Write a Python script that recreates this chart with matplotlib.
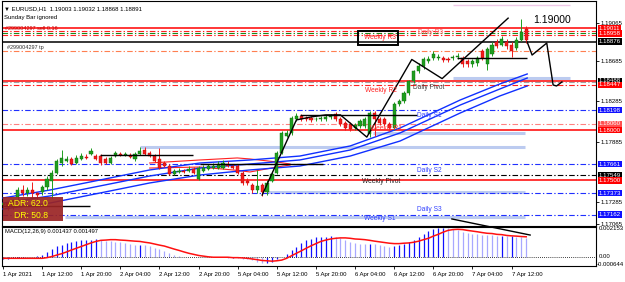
import matplotlib
matplotlib.use("Agg")
import matplotlib.pyplot as plt
import matplotlib.transforms as mtransforms
from matplotlib.patches import Rectangle

plt.rcParams['font.family'] = ['Liberation Sans', 'DejaVu Sans']

# ---------------- DATA ----------------
opens = [1.17253, 1.17272, 1.17233, 1.17331, 1.17410, 1.17371, 1.17401, 1.17371, 1.17381, 1.17430,
         1.17499, 1.17578, 1.17676, 1.17696, 1.17716, 1.17676, 1.17716, 1.17735, 1.17765, 1.17745,
         1.17745, 1.17716, 1.17676, 1.17745, 1.17765, 1.17755, 1.17755, 1.17716, 1.17765, 1.17804,
         1.17775, 1.17745, 1.17716, 1.17676, 1.17647, 1.17568, 1.17588, 1.17598, 1.17598, 1.17617,
         1.17519, 1.17598, 1.17617, 1.17627, 1.17627, 1.17627, 1.17666, 1.17647, 1.17647, 1.17578,
         1.17499, 1.17450, 1.17401, 1.17450, 1.17381, 1.17499, 1.17578, 1.17775, 1.17942, 1.17972,
         1.18110, 1.18139, 1.18120, 1.18120, 1.18110, 1.18110, 1.18110, 1.18129, 1.18159, 1.18110,
         1.18070, 1.18060, 1.18021, 1.18041, 1.18041, 1.17962, 1.18169, 1.18110, 1.18110, 1.18060,
         1.18021, 1.18258, 1.18287, 1.18366, 1.18484, 1.18583, 1.18632, 1.18681, 1.18711, 1.18711,
         1.18711, 1.18701, 1.18711, 1.18720, 1.18711, 1.18681, 1.18652, 1.18661, 1.18780, 1.18652,
         1.18750, 1.18878, 1.18848, 1.18878, 1.18848, 1.18809, 1.18898, 1.19003]
highs = [1.17290, 1.17290, 1.17320, 1.17430, 1.17450, 1.17430, 1.17480, 1.17390, 1.17450, 1.17540,
         1.17600, 1.17710, 1.17800, 1.17740, 1.17730, 1.17750, 1.17770, 1.17760, 1.17820, 1.17760,
         1.17760, 1.17730, 1.17740, 1.17790, 1.17780, 1.17780, 1.17770, 1.17780, 1.17830, 1.17830,
         1.17790, 1.17760, 1.17820, 1.17690, 1.17660, 1.17610, 1.17620, 1.17610, 1.17640, 1.17630,
         1.17640, 1.17650, 1.17660, 1.17670, 1.17690, 1.17700, 1.17690, 1.17660, 1.17660, 1.17590,
         1.17520, 1.17470, 1.17600, 1.17470, 1.17500, 1.17590, 1.17790, 1.17990, 1.18000, 1.18140,
         1.18170, 1.18160, 1.18140, 1.18140, 1.18130, 1.18140, 1.18150, 1.18160, 1.18180, 1.18130,
         1.18090, 1.18080, 1.18070, 1.18110, 1.18130, 1.18190, 1.18190, 1.18130, 1.18130, 1.18080,
         1.18280, 1.18310, 1.18390, 1.18500, 1.18600, 1.18660, 1.18720, 1.18730, 1.18780, 1.18750,
         1.18730, 1.18720, 1.18740, 1.18760, 1.18730, 1.18700, 1.18700, 1.18730, 1.18800, 1.18820,
         1.18870, 1.18900, 1.18930, 1.18900, 1.18870, 1.18920, 1.19105, 1.19032]
lows = [1.17230, 1.17210, 1.17220, 1.17310, 1.17350, 1.17350, 1.17330, 1.17320, 1.17360, 1.17410,
        1.17330, 1.17560, 1.17640, 1.17680, 1.17650, 1.17660, 1.17700, 1.17710, 1.17750, 1.17700,
        1.17650, 1.17660, 1.17660, 1.17730, 1.17740, 1.17740, 1.17720, 1.17690, 1.17750, 1.17750,
        1.17730, 1.17680, 1.17610, 1.17630, 1.17550, 1.17550, 1.17570, 1.17570, 1.17580, 1.17560,
        1.17500, 1.17580, 1.17600, 1.17610, 1.17610, 1.17610, 1.17630, 1.17610, 1.17560, 1.17450,
        1.17450, 1.17380, 1.17380, 1.17350, 1.17360, 1.17480, 1.17560, 1.17760, 1.17930, 1.17950,
        1.18090, 1.18090, 1.18090, 1.18080, 1.18090, 1.18090, 1.18090, 1.18110, 1.18090, 1.18040,
        1.18000, 1.17990, 1.18000, 1.18020, 1.18020, 1.17930, 1.17940, 1.18050, 1.18040, 1.18000,
        1.18000, 1.18240, 1.18270, 1.18350, 1.18470, 1.18570, 1.18610, 1.18660, 1.18690, 1.18690,
        1.18670, 1.18670, 1.18690, 1.18700, 1.18630, 1.18630, 1.18630, 1.18640, 1.18690, 1.18600,
        1.18730, 1.18810, 1.18830, 1.18800, 1.18720, 1.18790, 1.18880, 1.18868]
closes = [1.17272, 1.17233, 1.17302, 1.17401, 1.17371, 1.17410, 1.17371, 1.17351, 1.17430, 1.17519,
          1.17578, 1.17696, 1.17726, 1.17716, 1.17666, 1.17726, 1.17745, 1.17726, 1.17795, 1.17716,
          1.17676, 1.17676, 1.17726, 1.17775, 1.17755, 1.17765, 1.17735, 1.17765, 1.17795, 1.17765,
          1.17745, 1.17696, 1.17627, 1.17647, 1.17568, 1.17598, 1.17598, 1.17588, 1.17617, 1.17578,
          1.17627, 1.17627, 1.17647, 1.17647, 1.17666, 1.17676, 1.17647, 1.17627, 1.17578, 1.17470,
          1.17470, 1.17401, 1.17440, 1.17381, 1.17479, 1.17568, 1.17775, 1.17972, 1.17972, 1.18120,
          1.18139, 1.18110, 1.18110, 1.18100, 1.18112, 1.18120, 1.18129, 1.18139, 1.18110, 1.18060,
          1.18021, 1.18011, 1.18051, 1.18090, 1.18110, 1.18169, 1.18110, 1.18070, 1.18060, 1.18021,
          1.18258, 1.18287, 1.18366, 1.18484, 1.18583, 1.18632, 1.18701, 1.18701, 1.18750, 1.18720,
          1.18691, 1.18691, 1.18720, 1.18730, 1.18652, 1.18652, 1.18681, 1.18711, 1.18711, 1.18799,
          1.18848, 1.18829, 1.18908, 1.18829, 1.18780, 1.18898, 1.18977, 1.18891]

# MACD main (histogram) and signal, in units of 1e-5
macd_main = [-16, -13, -5, -3, -3, 0, 3, 8, 18, 39, 58, 79, 92, 102, 113, 118, 123, 129, 129, 131,
             123, 118, 116, 113, 110, 102, 95, 92, 92, 89, 84, 71, 58, 45, 32, 18, 8, 3, 1, 1,
             3, 3, 3, 1, 0, -1, -3, -3, -5, -10, -16, -24, -34, -42, -42, -34, -16, 3, 24, 50,
             76, 102, 123, 137, 145, 150, 150, 153, 150, 139, 123, 113, 105, 100, 97, 97, 95, 87, 81, 76,
             81, 87, 97, 110, 129, 150, 171, 189, 208, 215, 215, 213, 208, 197, 187, 179, 174, 168, 166, 163,
             160, 158, 158, 155, 155, 150, 148, 144]
macd_signal = [-8, -8, -8, -8, -8, -8, -8, -8, -8, -3, 5, 16, 26, 39, 53, 66, 79, 92, 105, 116,
               124, 126, 129, 129, 126, 124, 121, 118, 116, 110, 105, 97, 89, 82, 71, 60, 50, 39, 29, 21,
               13, 8, 3, 0, 0, 0, 0, -3, -3, -5, -8, -13, -18, -24, -26, -29, -26, -21, -8, 11,
               29, 47, 66, 84, 100, 116, 126, 134, 139, 142, 142, 139, 134, 132, 129, 124, 118, 113, 108, 103,
               100, 100, 103, 105, 110, 118, 129, 139, 155, 168, 184, 197, 203, 205, 203, 197, 192, 187, 181, 176,
               174, 168, 166, 160, 157, 155, 152, 150]

# Moving-average channel (blue), read at sample bars
ma_bars = [0, 9.6, 19.8, 30, 40.3, 50.5, 60.7, 71, 81.2, 93.5, 101.6, 107.2]
ma_upper = [1.17326, 1.17405, 1.17504, 1.17604, 1.17673, 1.17703, 1.17742, 1.17842, 1.18020, 1.18298, 1.18457, 1.18556]
ma_mid = [1.17276, 1.17346, 1.17445, 1.17544, 1.17623, 1.17663, 1.17703, 1.17802, 1.17971, 1.18248, 1.18407, 1.18516]
ma_lower = [1.17217, 1.17276, 1.17375, 1.17475, 1.17554, 1.17604, 1.17643, 1.17742, 1.17891, 1.18169, 1.18338, 1.18437]

# Red short envelope
env_bars = [30, 40.3, 47.9, 50.5, 56, 58.7]
env_upper = [1.17673, 1.17703, 1.17723, 1.17713, 1.17683, 1.17663]
env_lower = [1.17623, 1.17633, 1.17600, 1.17584, 1.17633, 1.17653]

# Zigzag / projection
zz_bars = [53, 60, 63, 66, 69, 74.4, 83.6, 89.8, 103.3]
zz_prices = [1.17355, 1.18100, 1.18130, 1.18150, 1.18150, 1.17930, 1.18700, 1.18510, 1.19110]
proj_bars = [107.2, 108.2, 111.2, 112.5, 113.2, 114.3]
proj_prices = [1.18873, 1.18744, 1.18863, 1.18447, 1.18437, 1.18477]

# Horizontal black segments
seg_prices = [1.17247, 1.17752, 1.17663, 1.18149, 1.18718]
seg_start = [-1, 19.8, 40.3, 60.7, 92.8]
seg_end = [17.8, 38.9, 65.4, 84.7, 107.2]

# Pivot / order levels (full width)
level_prices = [1.19011, 1.18985, 1.18958, 1.18940, 1.18876, 1.18784, 1.18488, 1.18474, 1.18447,
                1.18198, 1.18060, 1.18000, 1.17661, 1.17549, 1.17500, 1.17373, 1.17162]

# Zones (light blue bars)
zone_prices = [1.18520, 1.17971, 1.17832, 1.17385, 1.17137]
zone_start = [92, 75.7, 28, 54, 12.7]
zone_end = [116, 106.7, 106.7, 106.7, 106.7]

# Right-axis labels
axis_plain = [1.19065, 1.18685, 1.18285, 1.17885, 1.17285, 1.17065]
box_prices = [1.19011, 1.18958, 1.18876, 1.18488, 1.18447, 1.18198, 1.18060, 1.18000,
              1.17661, 1.17549, 1.17500, 1.17373, 1.17162]
box_kinds = ['red', 'red', 'black', 'black', 'red', 'blue', 'lred', 'red',
             'blue', 'black', 'red', 'blue', 'blue']

date_labels = ["1 Apr 2021", "1 Apr 12:00", "1 Apr 20:00", "2 Apr 04:00", "2 Apr 12:00",
               "2 Apr 20:00", "5 Apr 04:00", "5 Apr 12:00", "5 Apr 20:00", "6 Apr 04:00",
               "6 Apr 12:00", "6 Apr 20:00", "7 Apr 04:00", "7 Apr 12:00"]
date_bars = [0, 8, 16, 24, 32, 40, 48, 56, 64, 72, 80, 88, 96, 104]

chart_labels = [("Weekly R3", 73.8, 1.18913, '#ff2020'),
                ("Daily R3", 84.9, 1.18963, '#ff6060'),
                ("Weekly R2", 74.0, 1.18397, '#ff2020'),
                ("Daily Pivot", 83.8, 1.18417, '#404040'),
                ("Daily S1", 84.7, 1.18149, '#3040ff'),
                ("Weekly R1", 75.0, 1.18020, '#ff3030'),
                ("Daily S2", 84.7, 1.17594, '#3040ff'),
                ("Weekly Pivot", 73.4, 1.17494, '#202020'),
                ("Daily S3", 84.7, 1.17216, '#3040ff'),
                ("Weekly S1", 73.8, 1.17127, '#3040ff')]

# ---------------- FIGURE ----------------
W, H = 625, 282
fig = plt.figure(figsize=(W / 100, H / 100), dpi=100)
fig.patch.set_facecolor('white')


def fax(l, t, r, b):
    return fig.add_axes([l / W, 1 - b / H, (r - l) / W, (b - t) / H])


ax = fax(2, 1, 596, 226)
mx = fax(2, 227, 596, 266)
XL = (-0.204, 121.27)
for a in (ax, mx):
    a.set_xlim(*XL)
    for s in a.spines.values():
        s.set_color('black')
        s.set_linewidth(0.8)
ax.set_ylim(1.17048, 1.19280)
mx.set_ylim(-0.000644, 0.00222)

DD = (0, (5, 2, 1.2, 2))
level_styles = [('#ff0000', '-', 1.1), ('#ff2020', DD, 0.8), ('#1a8a1a', DD, 0.8), ('#ff2020', DD, 0.8),
                ('#000000', '-', 1.1), ('#ff7f50', DD, 0.8), ('#ff0000', '-', 1.1), ('#a0a0a0', DD, 0.8),
                ('#ff2020', DD, 0.8), ('#2030ff', DD, 0.8), ('#ff8080', DD, 0.8), ('#ff0000', '-', 1.1),
                ('#2030ff', DD, 0.8), ('#000000', DD, 0.8), ('#ff0000', '-', 1.1), ('#2030ff', DD, 0.8),
                ('#2030ff', DD, 0.8)]

# zones
for p, s, e in zip(zone_prices, zone_start, zone_end):
    ax.hlines(p, s, e, color='#bccbf0', lw=2.2, zorder=1)
ax.hlines(1.19240, 92, 116, color='#f0c8e8', lw=1.0, zorder=1)

for p, (c, ls, lw) in zip(level_prices, level_styles):
    ax.axhline(p, color=c, ls=ls, lw=lw, zorder=2)

# red envelope & blue MA channel
ax.plot(env_bars, env_upper, color='#ff2020', lw=0.8, zorder=3)
ax.plot(env_bars, env_lower, color='#ff2020', lw=0.8, zorder=3)
for arr in (ma_upper, ma_mid, ma_lower):
    ax.plot(ma_bars, arr, color='#1030ff', lw=1.0, zorder=3)

# candles
n = len(closes)
for i in range(n):
    o, h, l, c = opens[i], highs[i], lows[i], closes[i]
    bull = c >= o
    col = '#1e9e1e' if bull else '#f01c1c'
    ax.vlines(i, l, h, color=col, lw=0.7, zorder=4)
    bot, top = min(o, c), max(o, c)
    if top - bot < 0.00003:
        top = bot + 0.00003
    ax.add_patch(Rectangle((i - 0.32, bot), 0.64, top - bot, facecolor=col,
                           edgecolor='#0c6a0c' if bull else '#c00000', lw=0.3, zorder=5))

# black segments, zigzag, projection
for p, s, e in zip(seg_prices, seg_start, seg_end):
    ax.hlines(p, s, e, color='black', lw=1.0, zorder=6)
ax.plot(zz_bars, zz_prices, color='black', lw=1.0, zorder=6)
ax.plot(proj_bars, proj_prices, color='black', lw=1.0, zorder=6)

# chart labels
for txt, x, y, c in chart_labels:
    ax.text(x, y, txt, color=c, fontsize=4.8, va='center', ha='left', zorder=7)
ax.add_patch(Rectangle((72.6, 1.18844), 8.2, 0.00138, fill=False, ec='black', lw=1.4, zorder=7))
ax.text(108.4, 1.19092, "1.19000", fontsize=7.5, va='center', ha='left', color='black', zorder=7)
ax.text(0.4, 1.19003, "#299004297 sell 0.16", fontsize=4.0, color='#c00000', va='center', ha='left', zorder=7)
ax.text(0.8, 1.18814, "#299004297 tp", fontsize=4.0, color='#303030', va='center', ha='left', zorder=7)

# right axis
ax.yaxis.tick_right()
ax.set_yticks(axis_plain)
ax.set_yticklabels([f"{v:.5f}" for v in axis_plain])
ax.tick_params(axis='y', length=2, width=0.6, labelsize=4.4, pad=1)
ax.set_xticks([])
trans = mtransforms.blended_transform_factory(ax.transAxes, ax.transData)
kind_col = {'red': '#ff0000', 'lred': '#ff5050', 'black': '#000000', 'blue': '#1010ff'}
for p, k in zip(box_prices, box_kinds):
    ax.text(1.0 + 3.0 / 594, p, f"{p:.5f}", transform=trans, fontsize=4.4, color='white',
            va='center', ha='left', clip_on=False, zorder=8,
            bbox=dict(boxstyle='square,pad=0.12', fc=kind_col[k], ec='none'))

# header
fig.text(4 / W, 1 - 9 / H, "\u25bc EURUSD,H1  1.19003 1.19032 1.18868 1.18891", fontsize=4.3, va='center', ha='left')
fig.text(4 / W, 1 - 17.5 / H, "Sunday Bar ignored", fontsize=4.3, va='center', ha='left')

# ADR box
fig.patches.append(Rectangle((3 / W, 1 - 221 / H), 60 / W, 24 / H, transform=fig.transFigure,
                             facecolor='#9a2424', edgecolor='none', alpha=0.92, zorder=10))
fig.text(8 / W, 1 - 204 / H, "ADR: 62.0", fontsize=6.2, color='#ffff00', va='center', ha='left', zorder=11)
fig.text(14 / W, 1 - 215.5 / H, "DR: 50.8", fontsize=6.2, color='#ffff00', va='center', ha='left', zorder=11)

# MACD
mm = [v * 1e-5 for v in macd_main]
ms = [v * 1e-5 for v in macd_signal]
for i, v in enumerate(mm):
    rising = i == 0 or v >= mm[i - 1]
    mx.vlines(i, 0, v, color='#1010ff' if rising else '#a8a8ff', lw=0.9)
mx.axhline(0, color='black', ls=(0, (1, 1.5)), lw=0.6)
mx.plot(range(len(ms)), ms, color='#ff1010', lw=1.1)
mx.plot([91.8, 107.8], [0.00281, 0.00163], color='black', lw=1.0, clip_on=False, zorder=9)
mx.text(0.005, 0.88, "MACD(12,26,9) 0.001437 0.001497", transform=mx.transAxes, fontsize=4.2,
        va='center', ha='left')
mx.yaxis.tick_right()
mx.set_yticks([])
mtrans = mtransforms.blended_transform_factory(mx.transAxes, mx.transData)
mx.text(1.0 + 3.0 / 594, 0.00212, "0.002153", transform=mtrans, fontsize=4.3, va='center', ha='left', clip_on=False)
mx.text(1.0 + 3.0 / 594, 0.00002, "0.00", transform=mtrans, fontsize=4.3, va='center', ha='left', clip_on=False)
mx.text(1.0 + 1.0 / 594, -0.00055, "-0.000644", transform=mtrans, fontsize=4.3, va='center', ha='left', clip_on=False)
mx.set_xticks(date_bars)
mx.set_xticklabels(date_labels)
mx.tick_params(axis='x', length=2.5, width=0.6, labelsize=4.3, pad=1.5)
for lab in mx.get_xticklabels():
    lab.set_horizontalalignment('left')

fig.savefig('out.png', dpi=100, facecolor='white')
